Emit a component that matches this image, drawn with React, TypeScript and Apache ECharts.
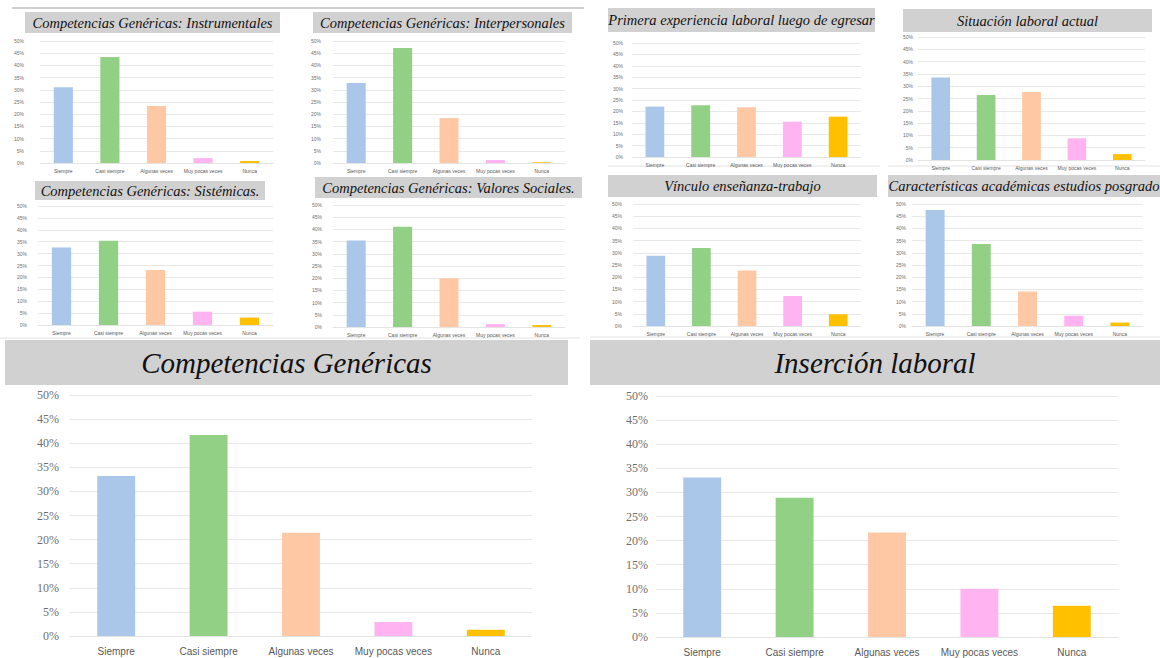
import React, { useEffect, useRef } from "react";
import * as echarts from "echarts";

const categories = ["Siempre", "Casi siempre", "Algunas veces", "Muy pocas veces", "Nunca"];
const barColors = ["#AAC6E8", "#92D086", "#FFC8A5", "#FFB3F0", "#FFC000"];
const yMax = 50;
const yStep = 5;

const instrumentales = [31.0, 43.4, 23.4, 2.0, 0.8];
const interpersonales = [32.8, 47.1, 18.4, 1.2, 0.3];
const sistemicas = [32.6, 35.4, 23.1, 5.6, 3.1];
const valoresSociales = [35.4, 41.1, 20.0, 1.2, 0.8];
const primeraExperiencia = [22.1, 22.7, 21.8, 15.5, 17.7];
const situacionLaboral = [33.5, 26.4, 27.6, 8.8, 2.4];
const vinculo = [28.8, 32.0, 22.7, 12.3, 4.8];
const posgrado = [47.5, 33.6, 14.1, 4.2, 1.4];
const competenciasGenericas = [33.2, 41.7, 21.4, 2.9, 1.3];
const insercionLaboral = [33.1, 28.9, 21.7, 10.0, 6.5];

type Panel = {
  title: string;
  data: number[];
  grid: { left: number; top: number; width: number; height: number };
  box: { x: number; y: number; w: number; h: number };
  titleSize: number;
  labelSize: number;
  yMargin: number;
  xMargin: number;
  big?: boolean;
};

const panels: Panel[] = [
  { title: "Competencias Genéricas: Instrumentales", data: instrumentales, grid: { left: 40, top: 41, width: 233, height: 122 }, box: { x: 25, y: 12, w: 255, h: 21 }, titleSize: 14.5, labelSize: 5, yMargin: 16, xMargin: 5 },
  { title: "Competencias Genéricas: Interpersonales", data: interpersonales, grid: { left: 333, top: 41, width: 232, height: 122 }, box: { x: 313, y: 12, w: 259, h: 21 }, titleSize: 14.5, labelSize: 5, yMargin: 12, xMargin: 5 },
  { title: "Competencias Genéricas: Sistémicas.", data: sistemicas, grid: { left: 38, top: 206, width: 235, height: 119 }, box: { x: 35, y: 181, w: 230, h: 19 }, titleSize: 14.5, labelSize: 5, yMargin: 11, xMargin: 5 },
  { title: "Competencias Genéricas: Valores Sociales.", data: valoresSociales, grid: { left: 333, top: 205, width: 232, height: 122 }, box: { x: 315, y: 177, w: 267, h: 21 }, titleSize: 14.5, labelSize: 5, yMargin: 11, xMargin: 5 },
  { title: "Primera experiencia laboral luego de egresar", data: primeraExperiencia, grid: { left: 632, top: 43, width: 229, height: 114 }, box: { x: 608, y: 8, w: 267, h: 24 }, titleSize: 14.5, labelSize: 5, yMargin: 9, xMargin: 5 },
  { title: "Situación laboral actual", data: situacionLaboral, grid: { left: 918, top: 37, width: 227, height: 123 }, box: { x: 903, y: 9, w: 249, h: 23 }, titleSize: 14.5, labelSize: 5, yMargin: 5, xMargin: 5 },
  { title: "Vínculo enseñanza-trabajo", data: vinculo, grid: { left: 633, top: 204, width: 228, height: 122 }, box: { x: 608, y: 175, w: 269, h: 22 }, titleSize: 14.5, labelSize: 5, yMargin: 11, xMargin: 5 },
  { title: "Características académicas estudios posgrado", data: posgrado, grid: { left: 912, top: 204, width: 231, height: 122 }, box: { x: 888, y: 175, w: 272, h: 22 }, titleSize: 14.5, labelSize: 5, yMargin: 6, xMargin: 5 },
  { title: "Competencias Genéricas", data: competenciasGenericas, grid: { left: 70, top: 395, width: 462, height: 241 }, box: { x: 5, y: 340, w: 563, h: 45 }, titleSize: 29, labelSize: 10, yMargin: 11, xMargin: 10, big: true },
  { title: "Inserción laboral", data: insercionLaboral, grid: { left: 656, top: 396, width: 462, height: 241 }, box: { x: 590, y: 340, w: 570, h: 45 }, titleSize: 29, labelSize: 10, yMargin: 8, xMargin: 10, big: true },
];

export default function App() {
  const ref = useRef<HTMLDivElement>(null);
  useEffect(() => {
    document.body.style.margin = "0";
    const chart = echarts.init(ref.current!, undefined, { renderer: "svg" });
    const graphics: any[] = [
      { type: "line", shape: { x1: 12, y1: 8, x2: 584, y2: 8 }, style: { stroke: "#cfcfcf", lineWidth: 2 }, z: -1 },
      { type: "line", shape: { x1: 608, y1: 166, x2: 880, y2: 166 }, style: { stroke: "#e2e2e2", lineWidth: 1 }, z: -1 },
      { type: "line", shape: { x1: 888, y1: 166, x2: 1160, y2: 166 }, style: { stroke: "#e2e2e2", lineWidth: 1 }, z: -1 },
      { type: "line", shape: { x1: 0, y1: 338, x2: 580, y2: 338 }, style: { stroke: "#e2e2e2", lineWidth: 1 }, z: -1 },
      { type: "line", shape: { x1: 590, y1: 337, x2: 1160, y2: 337 }, style: { stroke: "#e2e2e2", lineWidth: 1 }, z: -1 },
    ];
    panels.forEach((p) => {
      graphics.push({
        type: "rect",
        shape: { x: p.box.x, y: p.box.y, width: p.box.w, height: p.box.h },
        style: { fill: "#D2D1D1" },
        z: 0,
      });
      graphics.push({
        type: "text",
        x: p.box.x + p.box.w / 2,
        y: p.box.y + p.box.h / 2,
        style: {
          text: p.title,
          fill: "#111",
          font: `italic ${p.titleSize}px "Liberation Serif", "DejaVu Serif", serif`,
          textAlign: "center",
          textVerticalAlign: "middle",
        },
        z: 1,
      });
    });
    const option: any = {
      animation: false,
      backgroundColor: "#ffffff",
      grid: panels.map((p) => ({ ...p.grid, containLabel: false })),
      xAxis: panels.map((p, i) => ({
        type: "category",
        gridIndex: i,
        data: categories,
        axisTick: { show: false },
        axisLine: { show: true, lineStyle: { color: "#e4e4e4", width: 1 } },
        axisLabel: {
          interval: 0,
          fontSize: p.labelSize,
          color: "#595959",
          margin: p.xMargin,
          fontFamily: '"Liberation Sans", Arial, sans-serif',
        },
      })),
      yAxis: panels.map((p, i) => ({
        type: "value",
        gridIndex: i,
        min: 0,
        max: yMax,
        interval: yStep,
        axisLine: { show: false },
        axisTick: { show: false },
        splitLine: { lineStyle: { color: "#e8e8e8", width: 1 } },
        axisLabel: {
          formatter: "{value}%",
          fontSize: p.big ? 12 : p.labelSize,
          color: "#6f6f6f",
          margin: p.yMargin,
          fontFamily: p.big ? '"Liberation Serif", serif' : '"Liberation Sans", Arial, sans-serif',
        },
      })),
      series: panels.map((p, i) => ({
        type: "bar",
        name: p.title,
        xAxisIndex: i,
        yAxisIndex: i,
        barWidth: "41%",
        data: p.data.map((v, j) => ({ value: v, itemStyle: { color: barColors[j] } })),
      })),
      graphic: graphics,
    };
    chart.setOption(option);
    return () => chart.dispose();
  }, []);
  return (
    <div
      ref={ref}
      style={{ position: "absolute", left: 0, top: 0, width: 1160, height: 658, background: "#fff" }}
    />
  );
}
